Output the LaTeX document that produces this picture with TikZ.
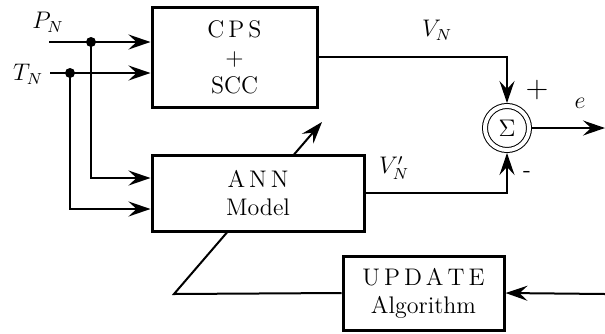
\documentclass[tikz,border=0pt]{standalone}
\usetikzlibrary{arrows.meta,backgrounds}
\begin{document}
\begin{tikzpicture}[x=0.5pt,y=-0.5pt,
    font=\fontsize{12}{14}\selectfont,
    block/.style={draw, line width=1.5pt, fill=white, align=center, inner sep=0pt},
    sig/.style={line width=1pt},
    arr/.style={sig, -{Stealth[length=11pt,width=7.5pt,inset=4pt]}},
    junct/.style={circle, fill, inner sep=0pt, minimum size=5pt},
    sign/.style={font=\sffamily\fontsize{15}{16}\selectfont}
]
\useasboundingbox (0,0) rectangle (605,333);
% blocks
\node[block, minimum width=82.5pt, minimum height=50pt] (cps) at (234.5,57) {C\,P\,S\\+\\SCC};
\node[block, minimum width=106pt, minimum height=38pt] (ann) at (258,193) {A\,N\,N\\Model};
\node[block, minimum width=80.5pt, minimum height=37pt] (upd) at (423.5,293) {U\,P\,D\,A\,T\,E\\Algorithm};
\node[circle, draw, line width=0.5pt, double, double distance=2pt, minimum size=22pt,
      inner sep=0pt, outer sep=1.5pt] (sum) at (507,128) {$\Sigma$};
% inputs
\coordinate (pin) at (49,42);
\coordinate (tin) at (50,73);
\node[junct] (pdot) at (91,42) {};
\node[junct] (tdot) at (70,73) {};
\node (plab) at (48,22) {$P_N$};
\node (tlab) at (28,74) {$T_N$};
\draw[arr] (pin) -- (cps.west |- pin);
\draw[arr] (tin) -- (cps.west |- tin);
\draw[arr] (pdot.center) |- ([yshift=7.5pt]ann.west);
\draw[arr] (tdot.center) |- ([yshift=-8pt]ann.west);
% outputs to the summer
\draw[arr] (cps.east) -| (sum.north);
\draw[arr] (ann.east) -| (sum.south);
\node (vn) at (437,30) {$V_N$};
\node (vnp) at (394,168) {$V_N'$};
\node[sign] (plus) at (537,90) {+};
\node[sign, font=\sffamily\fontsize{12}{14}\selectfont] (minus) at (527,174) {-};
\coordinate (eout) at (605,128);
\draw[arr] (sum.east) -- (eout);
\node (elab) at (580,103) {$e$};
% adaptation loop
\coordinate (err) at (605,294);
\draw[arr] (err) -- (upd.east);
\coordinate (bend) at (174,294);
\coordinate (tip) at (322,122);
\begin{scope}[on background layer]
\draw[arr] (upd.west) -- (bend) -- (tip);
\end{scope}
\end{tikzpicture}
\end{document}
